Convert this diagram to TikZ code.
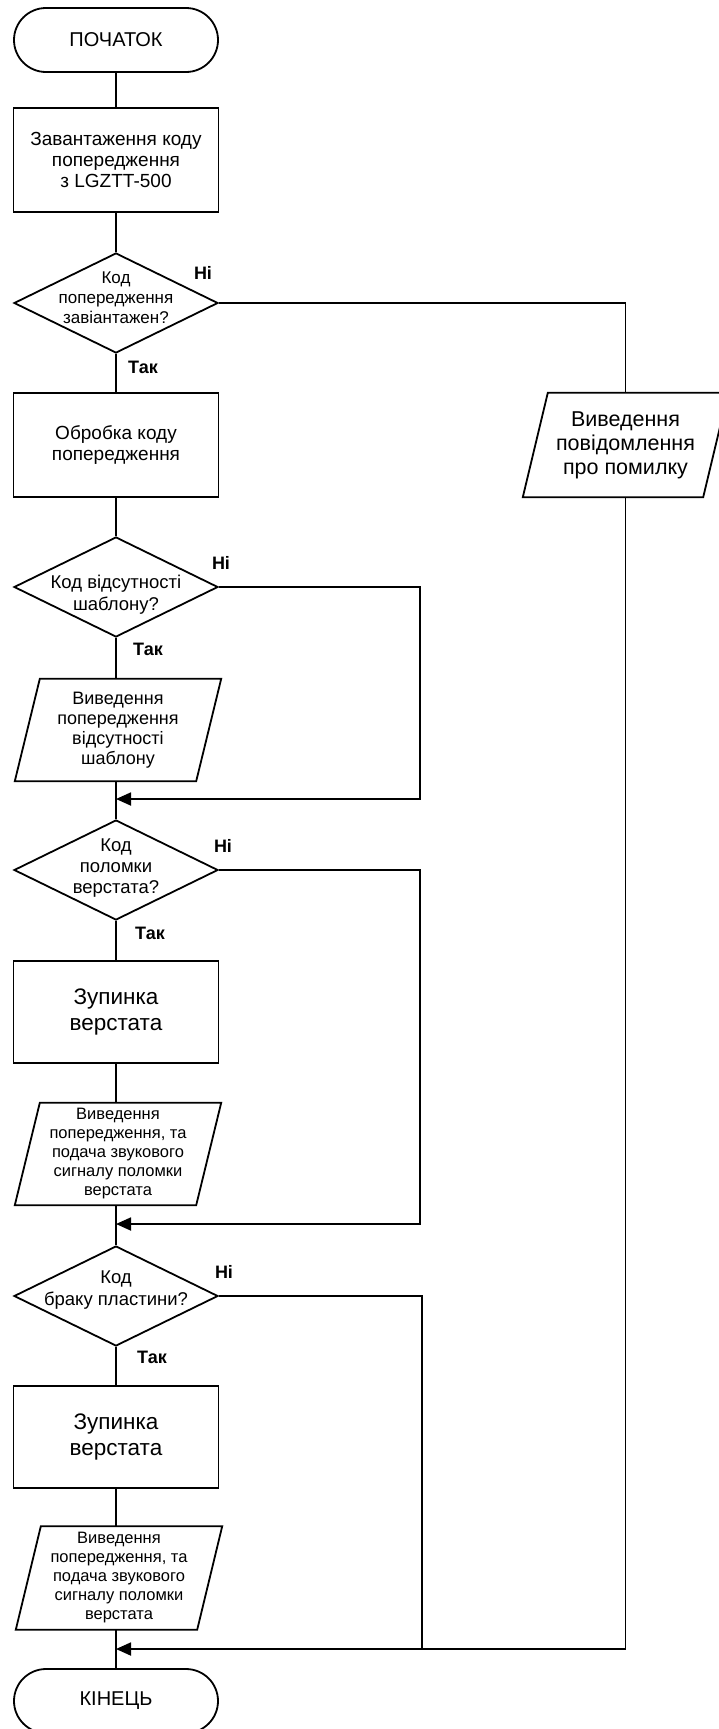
\documentclass[tikz,border=0pt]{standalone}
\usepackage{fontspec}
\setmainfont{Liberation Sans}
\usetikzlibrary{shapes.geometric,arrows.meta,calc}
\newcommand{\ioshape}[1]{\draw[line] ([xshift=12.5pt]#1.north west) -- ([xshift=12.5pt]#1.north east) -- ([xshift=-12.5pt]#1.south east) -- ([xshift=-12.5pt]#1.south west) -- cycle;}
\begin{document}
\begin{tikzpicture}[x=1pt,y=-1pt,
  line/.style={line width=1.8pt, draw=black},
  term/.style={draw, line width=1.8pt, rectangle, rounded corners=32pt, minimum width=204pt, minimum height=64pt, inner sep=0pt, font={\fontsize{20}{22}\selectfont}},
  proc/.style={draw, line width=1.8pt, rectangle, minimum width=205pt, minimum height=104pt, inner sep=0pt, align=center, font={\fontsize{19}{21}\selectfont}},
  bigproc/.style={proc, minimum height=102pt, font={\fontsize{22.5}{26}\selectfont}},
  dec/.style={draw, line width=1.8pt, diamond, minimum width=204pt, minimum height=100pt, inner sep=0pt},
  dtext/.style={align=center, inner sep=0pt, font={\fontsize{18.5}{22}\selectfont}},
  iobox/.style={rectangle, minimum width=181pt, minimum height=102pt, inner sep=0pt, align=center, font={\fontsize{18}{20}\selectfont}},
  smallio/.style={iobox, font={\fontsize{16.5}{19}\selectfont}},
  lab/.style={inner sep=0pt, font={\fontsize{18}{20}\selectfont\bfseries}},
  arr/.style={-{Triangle[length=15pt,width=13pt]}},
]
\useasboundingbox (0,0) rectangle (718,1729);
\fill[white] (0,0) rectangle (718,1729);

% main column
\node[term] (tstart) at (116,40) {ПОЧАТОК};
\node[proc] (b1) at (116,160) {Завантаження коду\\попередження\\з LGZTT-500};
\node[dec] (d1) at (116,303) {};
\node[dtext, font={\fontsize{17}{20}\selectfont}] (d1t) at (116,298) {Код\\попередження\\завіантажен?};
\node[proc] (b2) at (116,445) {Обробка коду\\попередження};
\node[dec] (d2) at (116,587) {};
\node[dtext] (d2t) at (116,595) {Код відсутності\\шаблону?};
\node[iobox] (p2) at (118,730) {Виведення\\попередження\\відсутності\\шаблону};
\ioshape{p2}
\node[dec] (d3) at (116,870) {};
\node[dtext, font={\fontsize{18.5}{21}\selectfont}] (d3t) at (116,868) {Код\\поломки\\верстата?};
\node[bigproc] (b3) at (116,1012) {Зупинка\\верстата};
\node[smallio] (p3) at (118,1154) {Виведення\\попередження, та\\подача звукового\\сигналу поломки\\верстата};
\ioshape{p3}
\node[dec] (d4) at (116,1296) {};
\node[dtext] (d4t) at (116,1290) {Код\\браку пластини?};
\node[bigproc] (b4) at (116,1437) {Зупинка\\верстата};
\node[smallio, minimum height=103pt] (p4) at (119,1578) {Виведення\\попередження, та\\подача звукового\\сигналу поломки\\верстата};
\ioshape{p4}
\node[term] (tstop) at (116,1701) {КІНЕЦЬ};

% error output
\node[iobox, minimum width=180pt, minimum height=104pt, font={\fontsize{21.5}{24}\selectfont}] (pe) at (625.5,445) {Виведення\\повідомлення\\про помилку};
\ioshape{pe}

% labels
\node[lab] (n1) at (203,273) {Ні};
\node[lab] (y1) at (143,367) {Так};
\node[lab] (n2) at (221,563) {Ні};
\node[lab] (y2) at (148,649) {Так};
\node[lab] (n3) at (223,846) {Ні};
\node[lab] (y3) at (150,933) {Так};
\node[lab] (n4) at (224,1272) {Ні};
\node[lab] (y4) at (152,1357) {Так};

% junctions and corners
\coordinate (j1) at (116,799);
\coordinate (j2) at (116,1224);
\coordinate (j3) at (116,1649);
\coordinate (r2) at (420,587);
\coordinate (r3) at (420,870);
\coordinate (r4) at (422,1296);

% main connectors
\draw[line] (tstart) -- (b1);
\draw[line] (b1) -- (d1);
\draw[line] (d1) -- (b2);
\draw[line] (b2) -- (d2);
\draw[line] (d2.south) -- (d2.south |- p2.north);
\draw[line] (p2.south -| d3.north) -- (d3.north);
\draw[line] (d3) -- (b3);
\draw[line] (b3.south) -- (b3.south |- p3.north);
\draw[line] (p3.south -| d4.north) -- (d4.north);
\draw[line] (d4) -- (b4);
\draw[line] (b4.south) -- (b4.south |- p4.north);
\draw[line] (p4.south -| tstop.north) -- (tstop.north);

% side branches
\draw[line] (d1.east) -| (pe.north);
\draw[line,arr] (pe.south) |- (j3);
\draw[line,arr] (d2.east) -- (r2) |- (j1);
\draw[line,arr] (d3.east) -- (r3) |- (j2);
\draw[line] (d4.east) -- (r4) -- (r4 |- j3);
\end{tikzpicture}
\end{document}
